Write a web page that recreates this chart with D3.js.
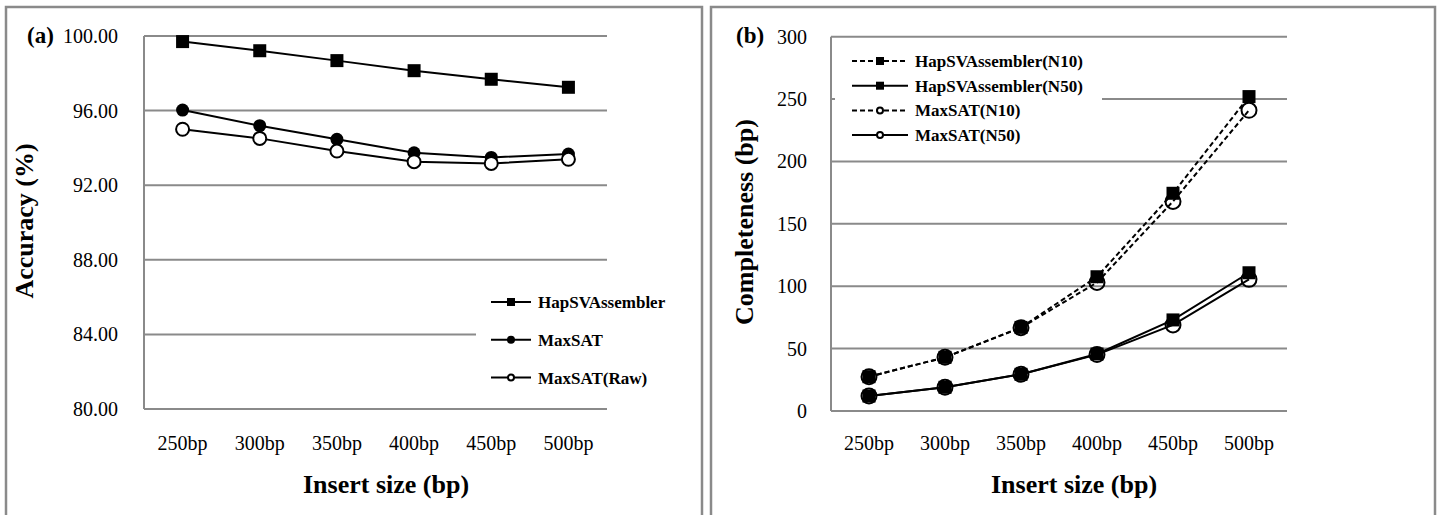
<!DOCTYPE html>
<html>
<head>
<meta charset="utf-8">
<script src="https://cdn.jsdelivr.net/npm/d3@7"></script>
<style>
  body { margin: 0; background: #fff; }
  svg { display: block; font-family: "Liberation Serif", "Times New Roman", serif; }
</style>
</head>
<body>
<svg id="chart" width="1438" height="515"></svg>
<script>
// categories shared by both panels
const insertSizes = ['250bp', '300bp', '350bp', '400bp', '450bp', '500bp'];

// panel (a): accuracy (%)
const accHapSV = [99.70, 99.21, 98.68, 98.14, 97.68, 97.25];
const accMaxSAT = [96.03, 95.19, 94.46, 93.74, 93.49, 93.67];
const accMaxSATRaw = [95.00, 94.51, 93.83, 93.26, 93.17, 93.39];
const accTicks = [80, 84, 88, 92, 96, 100];

// panel (b): completeness (bp)
const compHapN10 = [27.5, 43, 67, 107.6, 174.5, 252];
const compHapN50 = [12, 19, 29.4, 45.7, 73, 110.8];
const compMaxN10 = [27.5, 43, 66.8, 103, 168, 241];
const compMaxN50 = [12, 19, 29.4, 45.2, 69, 105.5];
const compTicks = [0, 50, 100, 150, 200, 250, 300];

const svg = d3.select('#chart');
const grid = '#8a8a8a';

// outer frames of the two panels
svg.append('rect').attr('x', 6).attr('y', 7).attr('width', 696).attr('height', 520)
  .attr('fill', 'none').attr('stroke', grid).attr('stroke-width', 2.5);
svg.append('rect').attr('x', 711).attr('y', 7).attr('width', 724).attr('height', 520)
  .attr('fill', 'none').attr('stroke', grid).attr('stroke-width', 2.5);

// draw one marker
function marker(g, type, x, y, size, fill) {
  if (type === 'square') {
    g.append('rect').attr('x', x - size / 2).attr('y', y - size / 2)
      .attr('width', size).attr('height', size).attr('fill', '#000');
  } else if (type === 'dot') {
    g.append('circle').attr('cx', x).attr('cy', y).attr('r', size / 2).attr('fill', '#000');
  } else {
    g.append('circle').attr('cx', x).attr('cy', y).attr('r', size / 2 - 1)
      .attr('fill', fill).attr('stroke', '#000').attr('stroke-width', 2);
  }
}

function panel(cfg) {
  const g = svg.append('g');
  const x = d3.scalePoint().domain(insertSizes).range([cfg.left, cfg.right]).padding(0.5);
  const y = d3.scaleLinear().domain(cfg.domain).range([cfg.bottom, cfg.top]);

  // gridlines
  g.selectAll('.grid').data(cfg.ticks).join('line')
    .attr('x1', cfg.left).attr('x2', cfg.right)
    .attr('y1', d => y(d)).attr('y2', d => y(d))
    .attr('stroke', grid).attr('stroke-width', 2);
  // left axis line
  g.append('line').attr('x1', cfg.left).attr('x2', cfg.left)
    .attr('y1', y(cfg.domain[1])).attr('y2', y(cfg.domain[0]))
    .attr('stroke', grid).attr('stroke-width', 2);

  // tick labels
  g.selectAll('.yt').data(cfg.ticks).join('text')
    .attr('x', cfg.labelRight).attr('y', d => y(d) + 7)
    .attr('text-anchor', 'end').attr('font-size', 20)
    .text(cfg.fmt);
  g.selectAll('.xt').data(insertSizes).join('text')
    .attr('x', d => x(d)).attr('y', 450)
    .attr('text-anchor', 'middle').attr('font-size', 20)
    .text(d => d);

  // titles
  g.append('text').attr('x', cfg.xTitleX).attr('y', 493)
    .attr('text-anchor', 'middle').attr('font-size', 26).attr('font-weight', 'bold')
    .text('Insert size (bp)');
  g.append('text').attr('transform', `translate(${cfg.yTitleX},${cfg.yTitleY}) rotate(-90)`)
    .attr('text-anchor', 'middle').attr('font-size', 26).attr('font-weight', 'bold')
    .text(cfg.yTitle);
  g.append('text').attr('x', cfg.tagX).attr('y', 43)
    .attr('font-size', 23).attr('font-weight', 'bold').text(cfg.tag);

  // legend background hides the gridline behind it
  const lg = cfg.legend;
  g.append('rect').attr('x', lg.x0).attr('y', lg.y0)
    .attr('width', lg.x1 - lg.x0).attr('height', lg.y1 - lg.y0).attr('fill', '#fff');

  // series
  const line = d3.line().x((d, i) => x(insertSizes[i])).y(d => y(d));
  cfg.series.forEach(s => {
    g.append('path').datum(s.values).attr('d', line)
      .attr('fill', 'none').attr('stroke', '#000').attr('stroke-width', 2)
      .attr('stroke-dasharray', s.dash ? '5,3' : null);
  });
  cfg.series.forEach(s => {
    s.values.forEach((v, i) => marker(g, s.marker, x(insertSizes[i]), y(v), s.size, s.fill));
  });

  // legend entries
  cfg.series.forEach((s, i) => {
    const ly = lg.rowY + i * lg.rowStep;
    g.append('line').attr('x1', lg.lx1).attr('x2', lg.lx2).attr('y1', ly).attr('y2', ly)
      .attr('stroke', '#000').attr('stroke-width', 2)
      .attr('stroke-dasharray', s.dash ? '5,3' : null);
    marker(g, s.marker, (lg.lx1 + lg.lx2) / 2, ly, 8, '#fff');
    g.append('text').attr('x', lg.tx).attr('y', ly + 6)
      .attr('font-size', 17).attr('font-weight', 'bold').text(s.name);
  });
}

panel({
  left: 144, right: 607, top: 36, bottom: 409,
  domain: [80, 100], ticks: accTicks, fmt: d => d.toFixed(2), labelRight: 118,
  xTitleX: 386, yTitleX: 33, yTitleY: 221, yTitle: 'Accuracy (%)',
  tag: '(a)', tagX: 27,
  legend: { x0: 476, x1: 690, y0: 272, y1: 400, lx1: 491, lx2: 531, tx: 538, rowY: 302, rowStep: 37.8 },
  series: [
    { name: 'HapSVAssembler', values: accHapSV, marker: 'square', size: 13 },
    { name: 'MaxSAT', values: accMaxSAT, marker: 'dot', size: 13 },
    { name: 'MaxSAT(Raw)', values: accMaxSATRaw, marker: 'open', size: 15, fill: '#fff' }
  ]
});

panel({
  left: 831, right: 1287, top: 36.7, bottom: 411,
  domain: [0, 300], ticks: compTicks, fmt: d => d, labelRight: 807,
  xTitleX: 1074, yTitleX: 753, yTitleY: 222, yTitle: 'Completeness (bp)',
  tag: '(b)', tagX: 736,
  legend: { x0: 835, x1: 1102, y0: 46, y1: 150, lx1: 852, lx2: 908, tx: 915, rowY: 61, rowStep: 24.7 },
  series: [
    { name: 'HapSVAssembler(N10)', values: compHapN10, marker: 'square', size: 13, dash: true },
    { name: 'HapSVAssembler(N50)', values: compHapN50, marker: 'square', size: 13 },
    { name: 'MaxSAT(N10)', values: compMaxN10, marker: 'open', size: 17, fill: 'none', dash: true },
    { name: 'MaxSAT(N50)', values: compMaxN50, marker: 'open', size: 17, fill: 'none' }
  ]
});
</script>
</body>
</html>
